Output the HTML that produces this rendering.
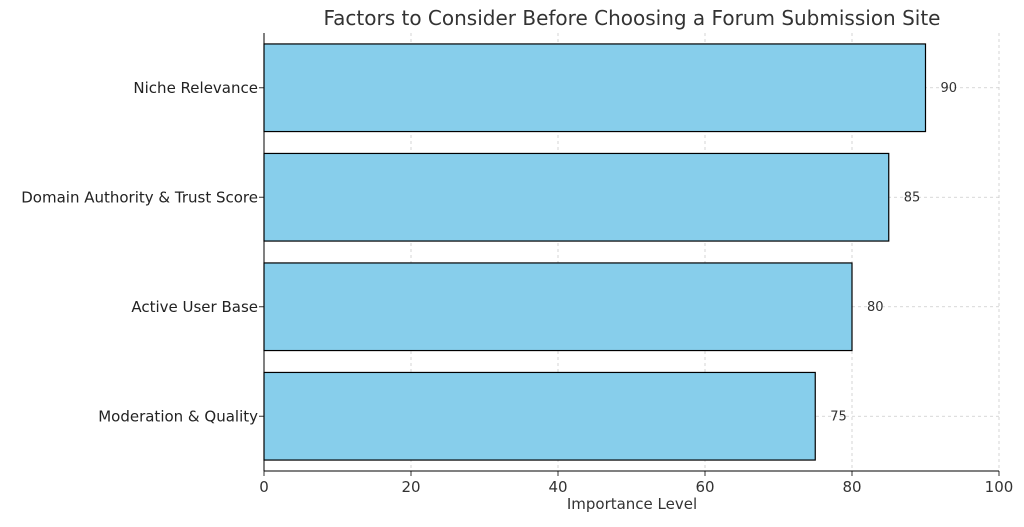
<!DOCTYPE html>
<html><head><meta charset="utf-8"><style>
body{margin:0;background:#fff;font-family:"Liberation Sans","DejaVu Sans",sans-serif;}
svg text{font-family:"DejaVu Sans","Liberation Sans",sans-serif;}
</style></head><body>
<svg id="chart" width="1024" height="522" xmlns="http://www.w3.org/2000/svg">
<text x="632" y="25" text-anchor="middle" font-size="20" fill="#333">Factors to Consider Before Choosing a Forum Submission Site</text>
<g id="grid"></g><g id="bars"></g><g id="axes"></g>
<text x="632" y="509" text-anchor="middle" font-size="15" fill="#333">Importance Level</text>
</svg>
<script>
const categories=["Niche Relevance","Domain Authority & Trust Score","Active User Base","Moderation & Quality"];
const values=[90,85,80,75];
const xTicks=[0,20,40,60,80,100];
const NS="http://www.w3.org/2000/svg";
const L=264,R=999,T=33,B=471;
const x=v=>L+(R-L)*v/100;
const band=(B-T)/categories.length;
const yc=i=>T+band*(i+0.5);
function mk(t,a,p){const e=document.createElementNS(NS,t);for(const k in a)e.setAttribute(k,a[k]);p.appendChild(e);return e;}
const grid=document.getElementById('grid'),bars=document.getElementById('bars'),axes=document.getElementById('axes');
xTicks.forEach(v=>{
 const g=mk('line',{x1:x(v),x2:x(v),y1:T,y2:B,stroke:'#ccc','stroke-dasharray':'3,3','stroke-width':0.8},grid);
 
 
 const tk=mk('line',{x1:x(v),x2:x(v),y1:B,y2:B+5,stroke:'#333'},axes);
 
 
 const t=mk('text',{x:x(v),y:B+21,'text-anchor':'middle','font-size':15,fill:'#333'},axes);
 t.textContent=v;
 
 
});
categories.forEach((c,i)=>{
 const g=mk('line',{x1:L,x2:R,y1:yc(i),y2:yc(i),stroke:'#ccc','stroke-dasharray':'3,3','stroke-width':0.8},grid);
 
 
 const h=band*0.8;
 const r=mk('rect',{x:L,y:yc(i)-h/2,width:x(values[i])-L,height:h,fill:'#87ceeb',stroke:'#000','stroke-width':1.2},bars);
 
 
 const v=mk('text',{x:x(values[i])+15,y:yc(i)+4,'font-size':13,fill:'#333'},bars);
 v.textContent=values[i];
 
 
 const tk=mk('line',{x1:L-5,x2:L,y1:yc(i),y2:yc(i),stroke:'#333'},axes);
 
 
 const t=mk('text',{x:L-6,y:yc(i)+5,'text-anchor':'end','font-size':15,fill:'#222'},axes);
 t.textContent=c;
 
 
});
const ls=mk('line',{x1:L,x2:L,y1:T,y2:B,stroke:'#000','stroke-width':1},axes);


const bs=mk('line',{x1:L,x2:R,y1:B,y2:B,stroke:'#000','stroke-width':1},axes);


</script>
</body></html>
